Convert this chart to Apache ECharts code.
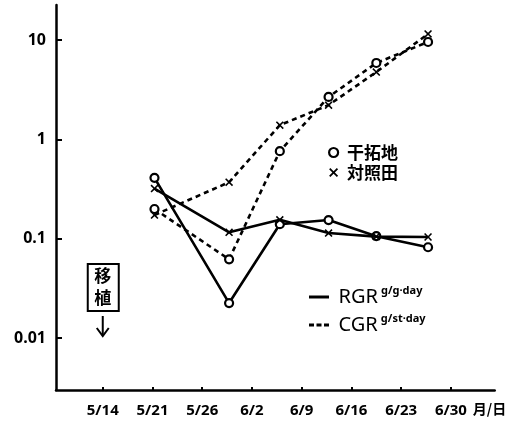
<!DOCTYPE html>
<html>
<head>
<meta charset="utf-8">
<script src="https://cdn.jsdelivr.net/npm/echarts@6/dist/echarts.min.js"></script>
<style>
  html, body { margin: 0; padding: 0; background: #fff; }
  #chart { width: 509px; height: 427px; }
</style>
</head>
<body>
<div id="chart"></div>
<script>
// Sampling dates on the x axis (one unit = one tick interval)
const dateLabels = ['5/14', '5/21', '5/26', '6/2', '6/9', '6/16', '6/23', '6/30'];
const tickPos = [0, 1, 2, 3, 4, 5, 6, 7];
const samplePos = [1.04, 2.54, 3.56, 4.54, 5.5, 6.54];

// Relative growth rate (g/g·day)
const rgrReclaimed = [0.41, 0.0225, 0.14, 0.154, 0.106, 0.082];
const rgrControl = [0.32, 0.116, 0.155, 0.114, 0.105, 0.104];
// Crop growth rate (g/st·day)
const cgrReclaimed = [0.199, 0.062, 0.76, 2.67, 5.87, 9.55];
const cgrControl = [0.173, 0.37, 1.39, 2.21, 4.76, 11.5];

const yTicks = [0.01, 0.1, 1, 10];
const yTickLabels = ['0.01', '0.1', '1', '10'];

const FONT = '"Noto Sans", "Noto Sans CJK JP", sans-serif';
const CJK = '"Noto Sans CJK JP", sans-serif';
const crossPath = 'path://M0,1.4L1.4,0L5,3.6L8.6,0L10,1.4L6.4,5L10,8.6L8.6,10L5,6.4L1.4,10L0,8.6L3.6,5Z';
const solidIcon = 'path://M0,0H20V3H0Z';
const dashIcon = 'path://M0,0H5V3H0Z M7.5,0H12.5V3H7.5Z M15,0H20V3H15Z';

const pairs = xs => xs.map((v, i) => [samplePos[i], v]);

function lineSeries(name, values, dashed, hollow) {
  return {
    type: 'line',
    name: name,
    data: pairs(values),
    symbol: hollow ? 'circle' : crossPath,
    symbolSize: 8,
    showSymbol: true,
    lineStyle: { color: '#000', width: 2.6, type: dashed ? [5, 4] : 'solid' },
    itemStyle: hollow
      ? { color: '#fff', borderColor: '#000', borderWidth: 2.2 }
      : { color: '#000', borderWidth: 0 },
    z: hollow ? 3 : 4
  };
}

// Empty series that only feed the two legends
const keySeries = name => ({ type: 'line', name: name, data: [], itemStyle: { color: '#000' }, lineStyle: { color: '#000' } });

const chart = echarts.init(document.getElementById('chart'), null, { renderer: 'canvas' });

chart.setOption({
  animation: false,
  backgroundColor: '#fff',
  grid: { left: 56, right: 12, top: 5, bottom: 37, containLabel: false },
  xAxis: {
    type: 'value',
    min: -0.94,
    max: 7.88,
    splitLine: { show: false },
    axisLine: { onZero: false, lineStyle: { color: '#000', width: 2.5 } },
    axisTick: { show: true, inside: true, length: 3, customValues: tickPos, lineStyle: { color: '#000', width: 2 } },
    axisLabel: {
      customValues: tickPos,
      formatter: v => dateLabels[Math.round(v)] || '',
      color: '#000', fontSize: 15, fontWeight: 'bold', fontFamily: FONT, margin: 13
    },
    name: '月/日',
    nameLocation: 'end',
    nameGap: -2,
    nameTextStyle: { color: '#000', fontSize: 14, fontWeight: 'bold', fontFamily: CJK, align: 'right', verticalAlign: 'top', padding: [12, 0, 0, 0] }
  },
  yAxis: {
    type: 'log',
    logBase: 10,
    min: 0.003,
    max: 22.5,
    splitLine: { show: false },
    axisLine: { onZero: false, lineStyle: { color: '#000', width: 2.5 } },
    axisTick: { show: true, inside: true, length: 6, customValues: yTicks, lineStyle: { color: '#000', width: 2 } },
    axisLabel: {
      customValues: yTicks,
      formatter: v => {
        const i = yTicks.findIndex(t => Math.abs(Math.log10(t) - Math.log10(v)) < 1e-6);
        return i >= 0 ? yTickLabels[i] : '';
      },
      color: '#000', fontSize: 16, fontWeight: 'bold', fontFamily: FONT, margin: 10
    }
  },
  legend: [
    {
      data: [
        { name: '干拓地', icon: 'circle', itemStyle: { color: '#fff', borderColor: '#000', borderWidth: 2.2 } },
        { name: '対照田', icon: crossPath }
      ],
      orient: 'vertical',
      left: 323,
      top: 139,
      itemWidth: 9,
      itemHeight: 9,
      itemGap: 3,
      selectedMode: false,
      textStyle: { color: '#000', fontSize: 17, fontWeight: 'bold', fontFamily: CJK, padding: [0, 0, 0, 4] }
    },
    {
      data: [
        { name: 'RGR', icon: solidIcon },
        { name: 'CGR', icon: dashIcon }
      ],
      orient: 'vertical',
      left: 304,
      top: 280,
      itemWidth: 21,
      itemHeight: 3,
      itemGap: 6,
      selectedMode: false,
      formatter: name => name === 'RGR' ? '{m|RGR} {u|g/g·day}' : '{m|CGR} {u|g/st·day}',
      textStyle: {
        color: '#000', fontFamily: FONT, padding: [0, 0, 0, 4],
        rich: {
          m: { fontSize: 20, fontFamily: FONT, color: '#000', lineHeight: 24 },
          u: { fontSize: 11, fontFamily: FONT, color: '#000', fontWeight: 'bold', verticalAlign: 'top', lineHeight: 24, padding: [0, 0, 8, 0] }
        }
      }
    }
  ],
  series: [
    lineSeries('RGR 干拓地', rgrReclaimed, false, true),
    lineSeries('RGR 対照田', rgrControl, false, false),
    lineSeries('CGR 干拓地', cgrReclaimed, true, true),
    lineSeries('CGR 対照田', cgrControl, true, false),
    keySeries('干拓地'),
    keySeries('対照田'),
    keySeries('RGR'),
    keySeries('CGR')
  ]
});

// Transplanting note with a downward arrow below the 5/14 tick
const ax = chart.convertToPixel({ xAxisIndex: 0 }, tickPos[0]);
chart.setOption({
  graphic: [
    {
      type: 'rect',
      shape: { x: ax - 15, y: 264, width: 31, height: 47 },
      style: { fill: '#fff', stroke: '#000', lineWidth: 2 }
    },
    {
      type: 'text',
      x: ax, y: 287,
      style: { text: '移\n植', fill: '#000', font: 'bold 17px ' + CJK, align: 'center', verticalAlign: 'middle', lineHeight: 22 }
    },
    {
      type: 'line',
      shape: { x1: ax, y1: 316, x2: ax, y2: 336 },
      style: { stroke: '#000', lineWidth: 2 }
    },
    {
      type: 'polyline',
      shape: { points: [[ax - 6, 328], [ax, 336], [ax + 6, 328]] },
      style: { stroke: '#000', lineWidth: 2, fill: null }
    }
  ]
});
</script>
</body>
</html>
